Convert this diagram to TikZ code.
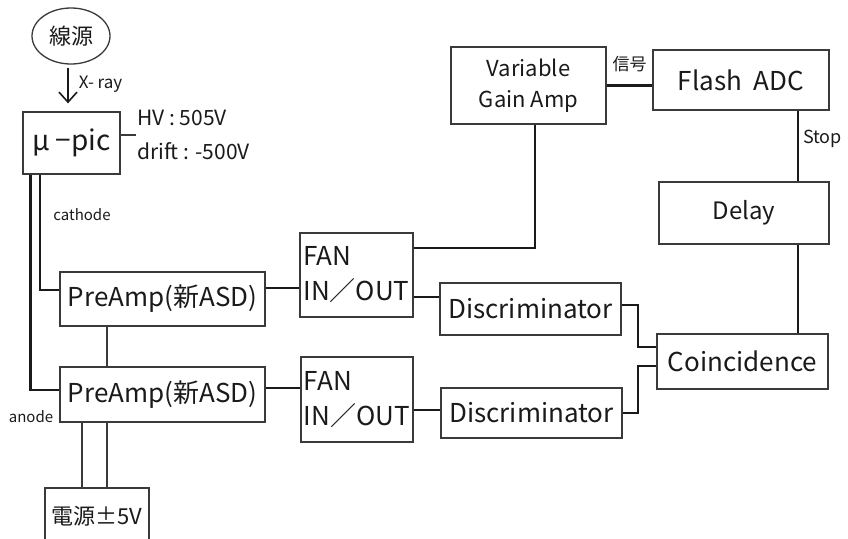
\documentclass[tikz,border=0pt]{standalone}
\usepackage{fontspec}
\setmainfont{Noto Sans CJK JP}
\usetikzlibrary{arrows.meta,positioning,shapes.geometric}
\definecolor{WireBlack}{HTML}{1A1A1A}
\definecolor{BoxGray}{HTML}{3A3A3A}
\tikzset{
  box/.style={draw=BoxGray, line width=1.3pt, align=center, inner sep=2pt,
              text=WireBlack},
  source/.style={ellipse, draw=BoxGray, line width=1.3pt, inner sep=0pt,
                 text=WireBlack},
  wire/.style={draw=WireBlack, line width=2.2pt},
  thinwire/.style={draw=BoxGray, line width=1.2pt},
  ray/.style={-{Straight Barb[length=10pt,width=18pt]}, line width=1.6pt,
              draw=WireBlack},
  note/.style={inner sep=1pt, text=WireBlack, align=left},
  bigtext/.style={font=\fontsize{26}{35}\selectfont},
  midtext/.style={font=\fontsize{22}{31}\selectfont},
  smalltext/.style={font=\fontsize{15}{18}\selectfont}
}

\begin{document}
\begin{tikzpicture}[x=1pt, y=-1pt]
  \useasboundingbox (0,0) rectangle (848,538);
  % detector side
  \node[source, midtext, minimum width=78pt, minimum height=56pt] (src) at (71,36) {線源};
  \node[box, font=\fontsize{28}{34}\selectfont, minimum width=97pt, minimum height=62pt] (mupic) at (71.5,143) {μ −pic};
  \node[note, font=\fontsize{21}{34}\selectfont, anchor=west] (hv) at (136,135) {HV : 505V\\drift : -500V};
  \node[box, bigtext, minimum width=205pt, minimum height=54pt] (pre1) at (162.5,299) {PreAmp(新ASD)};
  \node[box, bigtext, minimum width=205pt, minimum height=55pt] (pre2) at (162.5,394.5) {PreAmp(新ASD)};
  \node[box, midtext, minimum width=104pt, minimum height=56pt] (pwr) at (97,516) {電源±5V};
  \node[note, smalltext] (cathlabel) at (82,215) {cathode};
  \node[note, smalltext] (anodelabel) at (31,417) {anode};

  % readout chain
  \node[box, bigtext, align=left, minimum width=113pt, minimum height=84pt] (fan1) at (356.5,275) {FAN\\IN／OUT};
  \node[box, bigtext, align=left, minimum width=112pt, minimum height=85pt] (fan2) at (357,399.5) {FAN\\IN／OUT};
  \node[box, midtext, minimum width=155pt, minimum height=77pt] (vga) at (528.5,85.5) {Variable\\Gain Amp};
  \node[box, font=\fontsize{26}{31}\selectfont, minimum width=176pt, minimum height=60pt] (adc) at (741,80) {Flash~~ADC};
  \node[box, font=\fontsize{24}{31}\selectfont, minimum width=170pt, minimum height=62pt] (delay) at (744,213) {Delay};
  \node[box, bigtext, minimum width=181pt, minimum height=52pt] (disc1) at (530.5,309) {Discriminator};
  \node[box, bigtext, minimum width=181pt, minimum height=50pt] (disc2) at (531.5,413) {Discriminator};
  \node[box, bigtext, minimum width=171pt, minimum height=55pt] (coin) at (742.5,361.5) {Coincidence};

  \draw[ray, shorten <=3pt, shorten >=8pt] ([xshift=-3pt]src.south) -- ([xshift=-3pt]src.south |- mupic.north)
    node[pos=0.42, right=9pt, note, font=\fontsize{17}{18}\selectfont] {X- ray};
  \draw[thinwire] (mupic.east |- hv.west) -- (hv.west);
  \draw[wire] ([xshift=-31.5pt]mupic.south) |- ([yshift=9pt]pre1.west);
  \draw[wire] ([xshift=-41pt]mupic.south) |- ([yshift=4.5pt]pre2.west);
  \draw[thinwire] ([xshift=-55.5pt]pre1.south) -- ([xshift=-55.5pt]pre2.north);
  \draw[thinwire] ([xshift=-15pt]pwr.north) -- ([xshift=-15pt]pwr.north |- pre2.south);
  \draw[thinwire] ([xshift=10pt]pwr.north) -- ([xshift=10pt]pwr.north |- pre2.south);
  \draw[wire] ([yshift=11pt]pre1.east) -- ([yshift=11pt]pre1.east -| fan1.west);
  \draw[wire] ([yshift=6.5pt]pre2.east) -- ([yshift=6.5pt]pre2.east -| fan2.west);
  \draw[wire] ([yshift=27pt]fan1.east) -| ([xshift=6.5pt]vga.south);
  \draw[wire] ([yshift=-22pt]fan1.east) -- ([yshift=-22pt]fan1.east -| disc1.west);
  \draw[wire] ([yshift=-10.5pt]fan2.east) -- ([yshift=-10.5pt]fan2.east -| disc2.west);
  \draw[wire] (vga.east) -- (vga.east -| adc.west)
    node[pos=0.5, above=12pt, note, font=\fontsize{17}{18}\selectfont] {信号};
  \draw[wire] ([xshift=57pt]adc.south) -- ([xshift=57pt]adc.south |- delay.north)
    node[pos=0.4, right=3pt, note, font=\fontsize{18}{20}\selectfont] {Stop};
  \draw[wire] ([xshift=54pt]delay.south) -- ([xshift=54pt]delay.south |- coin.north);
  \draw[wire] ([yshift=4pt]disc1.east) -- ++(16,0) |- ([yshift=14.5pt]coin.west);
  \draw[wire] (disc2.east) -- ++(15,0) |- ([yshift=-4.5pt]coin.west);
\end{tikzpicture}
\end{document}
